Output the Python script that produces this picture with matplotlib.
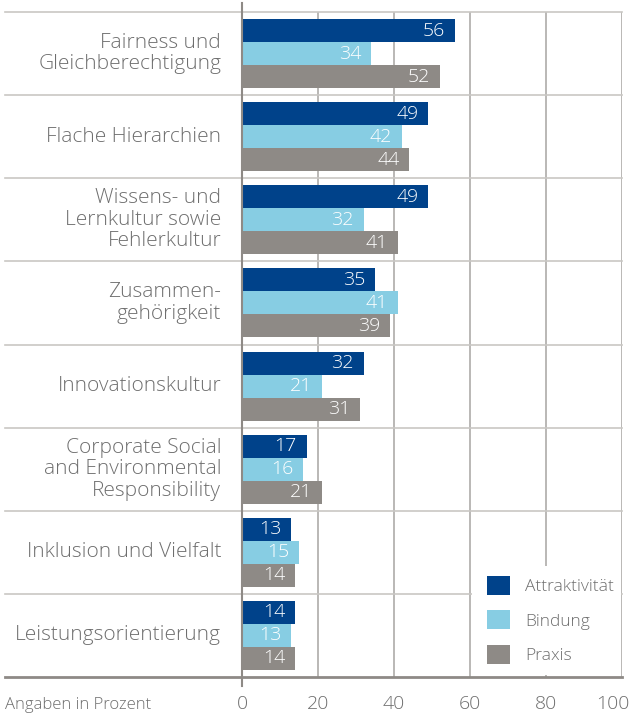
import matplotlib
matplotlib.use('Agg')
import matplotlib.pyplot as plt
import matplotlib.transforms as mtransforms
from matplotlib.patches import Patch, Rectangle
import numpy as np

plt.rcParams['font.family'] = ['Open Sans', 'DejaVu Sans']
plt.rcParams['font.weight'] = 'light'

categories = ['Fairness und\nGleichberechtigung',
              'Flache Hierarchien',
              'Wissens- und\nLernkultur sowie\nFehlerkultur',
              'Zusammen-\ngehörigkeit',
              'Innovationskultur',
              'Corporate Social\nand Environmental\nResponsibility',
              'Inklusion und Vielfalt',
              'Leistungsorientierung']
attraktivitaet = [56, 49, 49, 35, 32, 17, 13, 14]
bindung = [34, 42, 32, 41, 21, 16, 15, 13]
praxis = [52, 44, 41, 39, 31, 21, 14, 14]
series_names = ['Attraktivität', 'Bindung', 'Praxis']
x_ticks = [0, 20, 40, 60, 80, 100]

COLORS = ['#00428a', '#87cde3', '#8e8a86']
TEXT_COLOR = '#6e6e6e'
W, H = 632, 718

fig = plt.figure(figsize=(W / 100, H / 100), dpi=100)
ax = fig.add_axes([242 / W, 41 / H, 380 / W, 665 / H])

n = len(categories)
y = np.arange(n)
bar_h = 0.277
for k, (vals, color) in enumerate(zip([attraktivitaet, bindung, praxis], COLORS)):
    pos = y + (k - 1) * bar_h
    ax.barh(pos, vals, height=bar_h, color=color, zorder=3)
    for p, v in zip(pos, vals):
        ax.annotate(str(v), xy=(v, p), xytext=(-7, 0), textcoords='offset points',
                    ha='right', va='center', color='white', fontsize=14,
                    zorder=4)

ax.set_xlim(0, 100)
ax.set_ylim(n - 0.5, -0.5)

# row separators reaching out to the left edge
trans = mtransforms.blended_transform_factory(fig.transFigure, ax.transData)
for b in np.arange(-0.5, n, 1.0):
    if b == n - 0.5:
        ax.plot([5 / W, 622 / W], [b, b], transform=trans, color='#8e8a86',
                lw=2.0, clip_on=False, zorder=2)
    else:
        ax.plot([5 / W, 622 / W], [b, b], transform=trans, color='#c9c7c4',
                lw=1.2, clip_on=False, zorder=2)

for xv in x_ticks[1:]:
    ax.axvline(xv, color='#aeaca9', lw=1.2, zorder=1)
ax.plot([0, 0], [-0.014, 1.014], transform=ax.transAxes, color='#8e8a86',
        lw=1.5, clip_on=False, zorder=5)

for i, cat in enumerate(categories):
    ax.annotate(cat, xy=(0, i), xytext=(-15, 0), textcoords='offset points',
                ha='right', va='center', multialignment='right',
                color=TEXT_COLOR, fontsize=15, linespacing=1.1)

for s in ax.spines.values():
    s.set_visible(False)
ax.set_yticks([])
ax.set_xticks(x_ticks)
ax.tick_params(axis='x', length=0, pad=13, labelsize=14, labelcolor=TEXT_COLOR)
# last tick label sits flush with the right edge of the figure
last = ax.get_xticklabels()[-1]
last.set_horizontalalignment('right')
last.set_transform(last.get_transform() +
                   mtransforms.ScaledTranslation(8 / 100, 0, fig.dpi_scale_trans))

# white legend box covering the grid in the lower right
ax.add_patch(Rectangle((60.4, 6.16), 39.3, n - 0.52 - 6.16, facecolor='white',
                       edgecolor='none', zorder=2.5))
handles = [Patch(facecolor=c, edgecolor='none') for c in COLORS]
leg = ax.legend(handles, series_names, loc='center left',
                bbox_to_anchor=(0.645, 0.0857), frameon=False,
                fontsize=12.5, handlelength=1.32, handleheight=1.32,
                handletextpad=0.86, labelspacing=0.88, borderpad=0.0,
                borderaxespad=0.0, labelcolor=TEXT_COLOR)
leg.set_zorder(6)

fig.text(5 / W, 1 - 705 / H, 'Angaben in Prozent', ha='left', va='center',
         fontsize=12, color=TEXT_COLOR)

fig.savefig('out.png', dpi=100)
